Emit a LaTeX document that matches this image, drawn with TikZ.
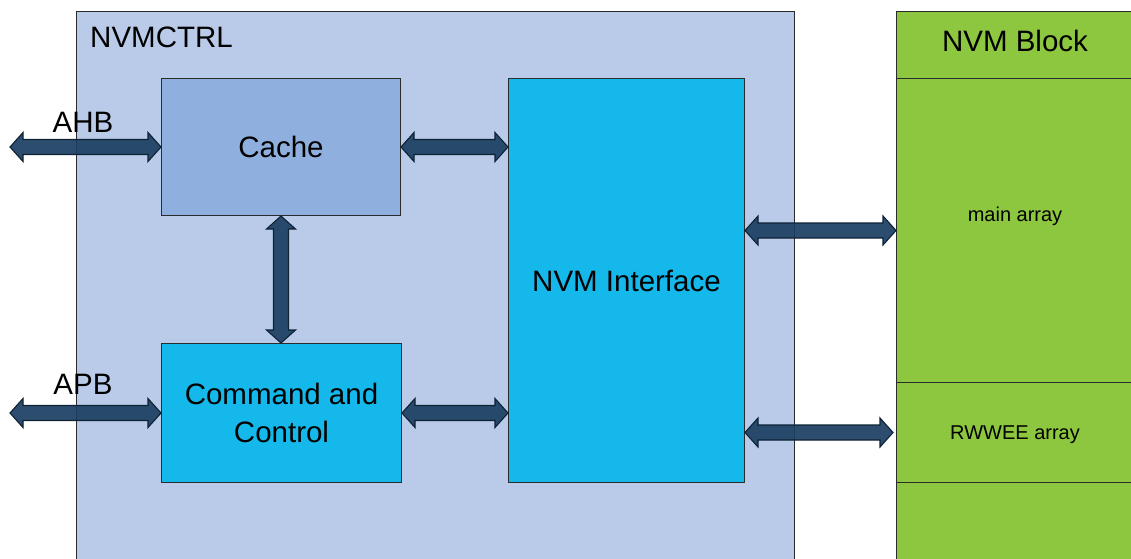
\documentclass[tikz,border=0pt]{standalone}
\usepackage{fontspec}
\setmainfont{Liberation Sans}
\usetikzlibrary{calc}
\definecolor{ctrlbg}{HTML}{B9CBE8}
\definecolor{cachebg}{HTML}{8FB0DE}
\definecolor{cyanbg}{HTML}{14B8EB}
\definecolor{greenbg}{HTML}{8DC63F}
\definecolor{busfill}{HTML}{1A3E62}
\definecolor{busline}{HTML}{0E2236}
\definecolor{edgec}{HTML}{2B2B2B}
\newcommand\hbus[2]{\filldraw[bus] (#1) -- ($(#1)+(13,-14.5)$) -- ($(#1)+(13,-7.5)$) -- ($(#2)+(-13,-7.5)$) -- ($(#2)+(-13,-14.5)$) -- (#2) -- ($(#2)+(-13,14.5)$) -- ($(#2)+(-13,7.5)$) -- ($(#1)+(13,7.5)$) -- ($(#1)+(13,14.5)$) -- cycle;}
\newcommand\vbus[2]{\filldraw[bus] (#1) -- ($(#1)+(14.5,13)$) -- ($(#1)+(7.5,13)$) -- ($(#2)+(7.5,-13)$) -- ($(#2)+(14.5,-13)$) -- (#2) -- ($(#2)+(-14.5,-13)$) -- ($(#2)+(-7.5,-13)$) -- ($(#1)+(-7.5,13)$) -- ($(#1)+(-14.5,13)$) -- cycle;}
\begin{document}
\begin{tikzpicture}[x=1pt,y=-1pt,
  big/.style={font=\fontsize{29.5}{38}\selectfont},
  small/.style={font=\fontsize{20}{24}\selectfont},
  block/.style={draw=edgec,line width=1pt,inner sep=0pt},
  bus/.style={fill=busfill,draw=busline,line width=1.1pt,fill opacity=0.92,line join=miter}]
\useasboundingbox (0,0) rectangle (1131,558);
% containers
\node[block,fill=ctrlbg,minimum width=718,minimum height=560,anchor=north west] (ctrl) at (76,11) {};
\node[block,fill=greenbg,minimum width=250,minimum height=560,anchor=north west] (nvm) at (896,11) {};
\draw[edgec,line width=1pt] (896,78) -- (1131,78);
\draw[edgec,line width=1pt] (896,382) -- (1131,382);
\draw[edgec,line width=1pt] (896,482) -- (1131,482);
% labels
\node[big,inner sep=0pt,anchor=west] (ctrllbl) at (90,37) {NVMCTRL};
\node[big,inner sep=0pt] (nvmlbl) at (1015,41) {NVM Block};
\node[small,inner sep=0pt] (mainlbl) at (1015,216) {main array};
\node[small,inner sep=0pt] (rwlbl) at (1015,435) {RWWEE array};
% blocks
\node[block,fill=cachebg,minimum width=239,minimum height=137,anchor=north west,big] (cache) at (161,78) {Cache};
\node[block,fill=cyanbg,minimum width=240,minimum height=139,anchor=north west,big,align=center] (cmd) at (161,343) {Command and\\Control};
\node[block,fill=cyanbg,minimum width=236,minimum height=404,anchor=north west,big] (nvmif) at (508,78) {NVM Interface};
\node[big,inner sep=0pt] (ahb) at (83,122) {AHB};
\node[big,inner sep=0pt] (apb) at (83,384) {APB};
% connector end points
\coordinate (ahbL) at ([xshift=-151pt]cache.west);
\coordinate (apbL) at ([xshift=-151pt]cmd.west);
\coordinate (ifC) at (nvmif.west |- cache.east);
\coordinate (ifK) at (nvmif.west |- cmd.east);
\coordinate (cmdT) at (cache.south |- cmd.north);
\coordinate (ifM) at ([yshift=50pt]nvmif.east);
\coordinate (ifR) at ([yshift=-152pt]nvmif.east);
\coordinate (nvmM) at (nvm.west |- ifM);
\coordinate (nvmR) at ([xshift=-3pt]nvm.west |- ifR);
% buses
\hbus{ahbL}{cache.west}
\hbus{cache.east}{ifC}
\vbus{cache.south}{cmdT}
\hbus{apbL}{cmd.west}
\hbus{cmd.east}{ifK}
\hbus{ifM}{nvmM}
\hbus{ifR}{nvmR}
\end{tikzpicture}
\end{document}
